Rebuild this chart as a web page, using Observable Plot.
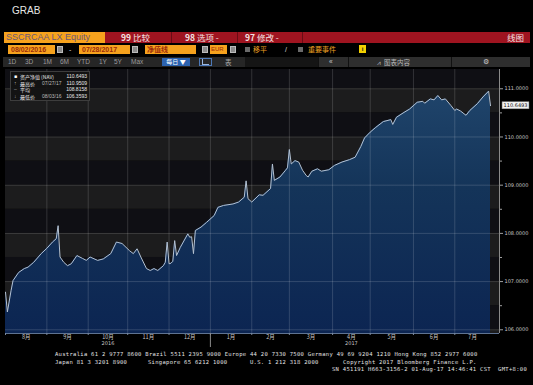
<!DOCTYPE html>
<html><head><meta charset="utf-8">
<script src="https://cdn.jsdelivr.net/npm/d3@7"></script>
<script src="https://cdn.jsdelivr.net/npm/@observablehq/plot@0.6"></script>
<style>
html,body{margin:0;padding:0;background:#000;}
#page{position:relative;width:533px;height:385px;overflow:hidden;background:#000;font-family:"Liberation Sans","Noto Sans CJK SC",sans-serif;}
.a{position:absolute;white-space:pre;}
.cn{font-family:"Noto Sans CJK SC",sans-serif;}
.org{background:#f6a21d;}
.r1{font-size:8.5px;line-height:11px;color:#f4e2e2;top:32px;}
.r2{top:45px;height:9px;line-height:9px;font-size:7px;}
.gb{background:#8a8a8a;border:1px solid #bbb;box-sizing:border-box;}
.r3{top:57px;line-height:10px;font-size:6.5px;color:#9c9c9c;}
.rb{top:57px;height:10px;background:#2e2e2e;border-left:1px solid #111;box-sizing:border-box;}
.mono{font-family:"DejaVu Sans Mono",monospace;font-size:5.5px;letter-spacing:0.3px;color:#e2e2e2;line-height:6px;}
#legend{left:10px;top:71px;width:80px;height:30px;background:rgba(18,18,18,0.92);border:1px solid #3d3d3d;box-sizing:border-box;}
.lg{font-size:5px;line-height:5px;color:#e8e8e8;}
</style></head>
<body><div id="page">
<div class="a" style="left:12px;top:5px;font-size:10px;line-height:12px;color:#e6e6e6;">GRAB</div>

<div class="a org" style="left:4px;top:32px;width:101px;height:11px;"></div>
<div class="a" style="left:6px;top:32px;font-size:9px;line-height:11px;color:#6b5878;">SSCRCAA LX Equity</div>
<div class="a" style="left:105px;top:32px;width:425px;height:11px;background:#9f1420;"></div>
<div class="a" style="left:171px;top:32px;width:1px;height:11px;background:#6a0c14;"></div>
<div class="a" style="left:237px;top:32px;width:1px;height:11px;background:#6a0c14;"></div>
<div class="a" style="left:302px;top:32px;width:1px;height:11px;background:#6a0c14;"></div>
<div class="a cn r1" style="left:121px;"><b>99</b> 比较</div>
<div class="a cn r1" style="left:185px;"><b>98</b> 选项 -</div>
<div class="a cn r1" style="left:245px;"><b>97</b> 修改 -</div>
<div class="a cn r1" style="right:9px;">线图</div>

<div class="a org r2" style="left:8px;width:47px;"></div>
<div class="a r2" style="left:11px;color:#9b2a0a;font-weight:bold;">08/02/2016</div>
<div class="a gb" style="left:57px;top:46px;width:6px;height:7px;"></div>
<div class="a r2" style="left:69px;color:#ddd;">-</div>
<div class="a org r2" style="left:79px;width:51px;"></div>
<div class="a r2" style="left:82px;color:#9b2a0a;font-weight:bold;">07/28/2017</div>
<div class="a gb" style="left:132px;top:46px;width:6px;height:7px;"></div>
<div class="a org r2" style="left:145px;width:51px;"></div>
<div class="a cn r2" style="left:147px;color:#9b2a0a;font-weight:bold;">净值线</div>
<div class="a gb" style="left:202px;top:46px;width:6px;height:7px;"></div>
<div class="a org r2" style="left:210px;width:17px;"></div>
<div class="a r2" style="left:211px;color:#9b2a0a;font-size:6px;">EUR</div>
<div class="a gb" style="left:230px;top:46px;width:6px;height:7px;"></div>
<div class="a" style="left:245px;top:47px;width:5px;height:5px;background:#6a6a6a;"></div>
<div class="a cn r2" style="left:253px;color:#f0a020;">移平</div>
<div class="a r2" style="left:285px;color:#ddd;">/</div>
<div class="a" style="left:298px;top:47px;width:5px;height:5px;background:#6a6a6a;"></div>
<div class="a cn r2" style="left:308px;color:#f0a020;">重要事件</div>
<div class="a" style="left:359px;top:45px;width:7px;height:8px;background:#f2d000;color:#222;font-size:6px;line-height:8px;text-align:center;font-weight:bold;">i</div>

<div class="a" style="left:3px;top:57px;width:527px;height:10px;background:#262626;"></div>
<div class="a r3" style="left:8px;">1D</div>
<div class="a r3" style="left:25px;">3D</div>
<div class="a r3" style="left:43px;">1M</div>
<div class="a r3" style="left:60px;">6M</div>
<div class="a r3" style="left:77px;">YTD</div>
<div class="a r3" style="left:99px;">1Y</div>
<div class="a r3" style="left:114px;">5Y</div>
<div class="a r3" style="left:131px;">Max</div>
<div class="a cn" style="left:162px;top:58px;width:28px;height:8px;background:#2c63b0;color:#fff;font-size:6px;line-height:8px;text-align:center;">每日 ▼</div>
<div class="a" style="left:199px;top:58px;width:13px;height:8px;border:1px solid #4d79b8;box-sizing:border-box;"></div>
<div class="a" style="left:202px;top:59px;width:6px;height:5px;border-left:1px solid #9bb6dd;border-bottom:1px solid #9bb6dd;"></div>
<div class="a cn r3" style="left:225px;color:#aaa;">表</div>
<div class="a" style="left:245px;top:57px;width:73px;height:10px;background:#151515;"></div>
<div class="a rb" style="left:318px;width:30px;"></div>
<div class="a r3" style="left:329px;color:#ccc;">«</div>
<div class="a rb" style="left:348px;width:103px;"></div>
<div class="a cn r3" style="left:377px;color:#bbb;">⩘  图表内容</div>
<div class="a rb" style="left:451px;width:79px;"></div>
<div class="a r3" style="left:483px;color:#ccc;">⚙</div>

<div id="chart" class="a" style="left:0;top:68px;"></div>

<div id="legend" class="a"></div>

<div class="a mono" style="left:55px;top:351px;">Australia 61 2 9777 8600 Brazil 5511 2395 9000 Europe 44 20 7330 7500 Germany 49 69 9204 1210 Hong Kong 852 2977 6000</div>
<div class="a mono" style="left:55px;top:358.5px;">Japan 81 3 3201 8900</div>
<div class="a mono" style="left:148px;top:358.5px;">Singapore 65 6212 1000</div>
<div class="a mono" style="left:250px;top:358.5px;">U.S. 1 212 318 2000</div>
<div class="a mono" style="left:343px;top:358.5px;">Copyright 2017 Bloomberg Finance L.P.</div>
<div class="a mono" style="right:6px;top:366px;">SN 451191 H663-3156-2 01-Aug-17 14:46:41 CST  GMT+8:00</div>
</div>
<script>
// ---- data ----
const dates = ["2016-08-02","2016-08-03","2016-08-05","2016-08-08","2016-08-11","2016-08-16","2016-08-18","2016-08-23","2016-08-29",
"2016-09-01","2016-09-06","2016-09-08","2016-09-09","2016-09-12","2016-09-14","2016-09-16","2016-09-20","2016-09-23","2016-09-28","2016-09-30",
"2016-10-04","2016-10-10","2016-10-13","2016-10-19","2016-10-24","2016-10-27",
"2016-11-02","2016-11-04","2016-11-08","2016-11-10","2016-11-15","2016-11-17","2016-11-21","2016-11-23","2016-11-28","2016-11-29","2016-11-30",
"2016-12-01","2016-12-02","2016-12-05","2016-12-06","2016-12-07","2016-12-09","2016-12-15","2016-12-16","2016-12-19","2016-12-20","2016-12-21","2016-12-26","2016-12-29",
"2017-01-04","2017-01-06","2017-01-11","2017-01-18","2017-01-23","2017-01-26","2017-01-27","2017-01-30",
"2017-02-01","2017-02-07","2017-02-09","2017-02-15","2017-02-16","2017-02-17","2017-02-22","2017-02-27","2017-02-28",
"2017-03-01","2017-03-02","2017-03-06","2017-03-08","2017-03-10","2017-03-14","2017-03-15","2017-03-17","2017-03-22","2017-03-24","2017-03-30",
"2017-04-04","2017-04-10","2017-04-14","2017-04-19","2017-04-24","2017-04-26",
"2017-05-01","2017-05-04","2017-05-10","2017-05-16","2017-05-17","2017-05-19","2017-05-25","2017-05-30",
"2017-06-05","2017-06-08","2017-06-09","2017-06-14","2017-06-16","2017-06-20","2017-06-22","2017-06-26","2017-06-29",
"2017-07-03","2017-07-04","2017-07-06","2017-07-11","2017-07-13","2017-07-19","2017-07-24","2017-07-27","2017-07-28"];
const nav = [106.78,106.37,106.82,107.02,107.19,107.27,107.30,107.40,107.58,
107.69,107.82,107.89,108.16,107.51,107.40,107.33,107.37,107.54,107.48,107.44,
107.51,107.44,107.47,107.58,107.82,107.79,
107.64,107.58,107.68,107.51,107.27,107.23,107.27,107.23,107.33,107.40,107.82,
107.37,107.38,107.42,107.85,107.54,107.71,107.99,107.92,107.93,107.58,108.06,108.13,108.23,
108.37,108.54,108.58,108.61,108.65,108.75,109.09,108.72,
108.65,108.80,108.79,108.93,109.44,109.10,109.17,109.31,109.36,
109.74,109.44,109.51,109.48,109.31,109.20,109.17,109.29,109.34,109.29,109.32,
109.41,109.48,109.53,109.58,109.80,109.98,
110.10,110.20,110.32,110.36,110.26,110.41,110.51,110.58,
110.72,110.74,110.70,110.79,110.77,110.86,110.77,110.79,110.65,
110.55,110.58,110.54,110.45,110.55,110.69,110.83,110.9509,110.6493];
const monthLabels = ["8月","9月","10月","11月","12月","1月","2月","3月","4月","5月","6月","7月"];
const monthStarts = ["2016-08-02","2016-09-01","2016-10-03","2016-11-01","2016-12-01","2017-01-02","2017-02-01","2017-03-01","2017-04-03","2017-05-01","2017-06-01","2017-07-03"];
const yearLabels = ["2016","2017"];
const yearUnderMonth = ["10月","4月"];
const yTicks = [106,107,108,109,110,111];
const yMinorTicks = [106.5,107.5,108.5,109.5,110.5];
const endDate = "2017-07-28";
const lastLabel = "110.6493";
const legendNames = ["资产净值 (NAV)","最高价","平均","最低价"];
const legendMarks = ["■","↑","–","↓"];
const legendDates = ["","07/27/17","","08/03/16"];
const legendValues = ["110.6493","110.9509","108.8158","106.3593"];

// trading-day index (weekdays since the first date)
const origin = Date.UTC(2016,7,2);
function tday(s){const [Y,M,D]=s.split("-").map(Number);const end=Date.UTC(Y,M-1,D);let n=0;for(let c=origin;c<end;c+=864e5){const w=new Date(c).getUTCDay();if(w!==0&&w!==6)n++;}return n;}

const data = dates.map((d,i)=>({t:tday(d), v:nav[i]}));
const tEnd = tday(endDate);
const xMax = tEnd*494/485;
const starts = monthStarts.map(tday);
const months = monthLabels.map((m,i)=>({label:m, mid:(starts[i]+(i+1<starts.length?starts[i+1]:tEnd))/2}));
const years = yearLabels.map((y,i)=>({label:y, mid:months.find(m=>m.label===yearUnderMonth[i]).mid}));
const yMin = 105.923, yMax = 111.40;
const bands = d3.range(105.5,111.5,0.5).map(lo=>({lo:Math.max(lo,yMin),hi:Math.min(lo+0.5,yMax),light:Math.round(lo*2)%2===1})).filter(b=>b.hi>b.lo);
const last = data[data.length-1];

const chart = Plot.plot({
  width:533, height:285, marginTop:1, marginBottom:20, marginLeft:5, marginRight:34,
  style:{background:"#000", color:"#c8c8c8", fontFamily:"DejaVu Sans, sans-serif", fontSize:"5px", overflow:"visible"},
  x:{type:"linear", domain:[0,xMax], axis:null},
  y:{domain:[yMin,yMax], axis:null},
  marks:[
    Plot.rect(bands,{x1:()=>0, x2:()=>xMax, y1:"lo", y2:"hi", fill:d=>d.light?"#1c1c1d":"#0f0f14"}),
    Plot.areaY(data,{x:"t", y1:()=>yMin, y2:"v", fill:"url(#navFill)"}),
    Plot.ruleX(starts.slice(1),{stroke:"#ffffff", strokeOpacity:0.15}),
    Plot.ruleY(yTicks,{stroke:"#ffffff", strokeOpacity:0.15}),
    Plot.lineY(data,{x:"t", y:"v", stroke:"#b4c2d3", strokeWidth:1}),
    Plot.ruleY([yMin],{stroke:"#5f7391"}),
    Plot.ruleX([xMax],{stroke:"#8a8a8a"}),
    Plot.axisY(yTicks,{anchor:"right", tickSize:3, tickPadding:2, tickFormat:d=>d.toFixed(4), fontSize:5, stroke:"#a0a0a0", fill:"#c8c8c8"}),
    Plot.axisY(yMinorTicks,{anchor:"right", tickSize:2, tickFormat:()=>"", stroke:"#a0a0a0"}),
    Plot.axisX(starts,{anchor:"bottom", tickSize:2, tickFormat:()=>"", stroke:"#7a8aa0"}),
    Plot.axisX([starts[5]],{anchor:"bottom", tickSize:14, tickFormat:()=>"", stroke:"#8a8a8a"}),
    Plot.text(months,{x:"mid", frameAnchor:"bottom", dy:5.5, text:"label", fill:"#c8c8c8", fontSize:5.5, fontFamily:"Noto Sans CJK SC"}),
    Plot.text(years,{x:"mid", frameAnchor:"bottom", dy:11.5, text:"label", fill:"#c8c8c8", fontSize:5}),
    Plot.text([last],{x:()=>xMax, y:"v", text:()=>lastLabel, dx:16, fill:"#111", fontSize:5})
  ]
});
document.getElementById("chart").appendChild(chart);

const svg = d3.select(chart);
const ys = chart.scale("y");
const defs = svg.insert("defs",":first-child");
const lg = defs.append("linearGradient").attr("id","navFill").attr("gradientUnits","userSpaceOnUse")
  .attr("x1",0).attr("x2",0).attr("y1",ys.apply(yMax)).attr("y2",ys.apply(yMin));
lg.append("stop").attr("offset","0").attr("stop-color","#22486f");
lg.append("stop").attr("offset","0.45").attr("stop-color","#143459");
lg.append("stop").attr("offset","1").attr("stop-color","#0c2552");

// white box behind the last-value label
const sb = chart.getBoundingClientRect();
svg.selectAll("text").filter(function(){return this.textContent===lastLabel;}).each(function(){
  const r = this.getBoundingClientRect();
  const g = this.parentNode;
  const rect = document.createElementNS("http://www.w3.org/2000/svg","rect");
  rect.setAttribute("x", r.x-sb.x-1.5); rect.setAttribute("y", r.y-sb.y-0.5);
  rect.setAttribute("width", r.width+3); rect.setAttribute("height", r.height+1);
  rect.setAttribute("fill","#f2f2f2"); rect.setAttribute("stroke","#999"); rect.setAttribute("stroke-width","0.5");
  g.parentNode.insertBefore(rect, g);
});

// legend
const L = d3.select("#legend");
legendNames.forEach((n,i)=>{
  const top = 2 + i*6.6;
  L.append("div").attr("class","a lg").style("left","3px").style("top",top+"px").style("color",i===0?"#fff":"#aaa").text(legendMarks[i]);
  L.append("div").attr("class","a lg cn").style("left","9px").style("top",top+"px").text(n);
  if(legendDates[i]) L.append("div").attr("class","a lg").style("left","31px").style("top",top+"px").style("color","#bbb").text(legendDates[i]);
  L.append("div").attr("class","a lg").style("right","2px").style("top",top+"px").text(legendValues[i]);
});
</script>
</body></html>
